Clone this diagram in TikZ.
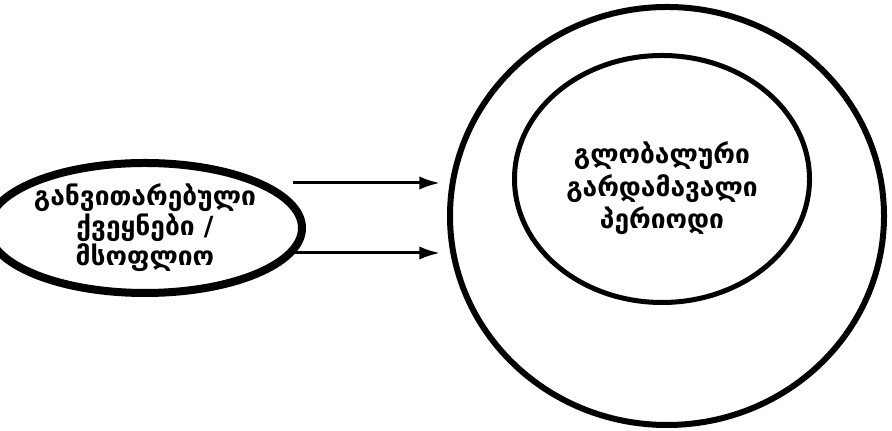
\documentclass[tikz,border=0pt]{standalone}
\usepackage{fontspec}
\setmainfont{DejaVu Sans}
\usetikzlibrary{arrows.meta,shapes.geometric}
\begin{document}
\begin{tikzpicture}[x=0.03cm,y=0.03cm,
  oval/.style={ellipse,draw,fill=white,inner sep=0pt,align=center,
    font=\bfseries\fontsize{22.5}{25.6}\selectfont},
  arrow/.style={-{Latex[length=0.62cm,width=0.4cm]},line width=0.09cm}]
\useasboundingbox (0,0) rectangle (892,431);

\node[oval,line width=0.18cm,minimum width=13.02cm,minimum height=12.54cm] (world) at (667,215) {};
\node[oval,line width=0.15cm,minimum width=8.85cm,minimum height=7.41cm,
  font=\bfseries\fontsize{22.5}{28}\selectfont] (core) at (662,252)
  {\raisebox{-0.5cm}[0pt][0pt]{\begin{tabular}{@{}c@{}}გლობალური\\გარდამავალი\\პერიოდი\end{tabular}}};

\node[oval,line width=0.24cm,minimum width=8.16cm,minimum height=3.9cm] (src) at (145,203)
  {განვითარებული\\ქვეყნები /\\მსოფლიო};

\coordinate (up) at (293,248);
\coordinate (down) at (293,178);
\draw[arrow,shorten >=0.21cm] (up) -- (up -| world.west);
\draw[arrow,shorten >=0.21cm] (down) -- (down -| world.west);
\end{tikzpicture}
\end{document}
